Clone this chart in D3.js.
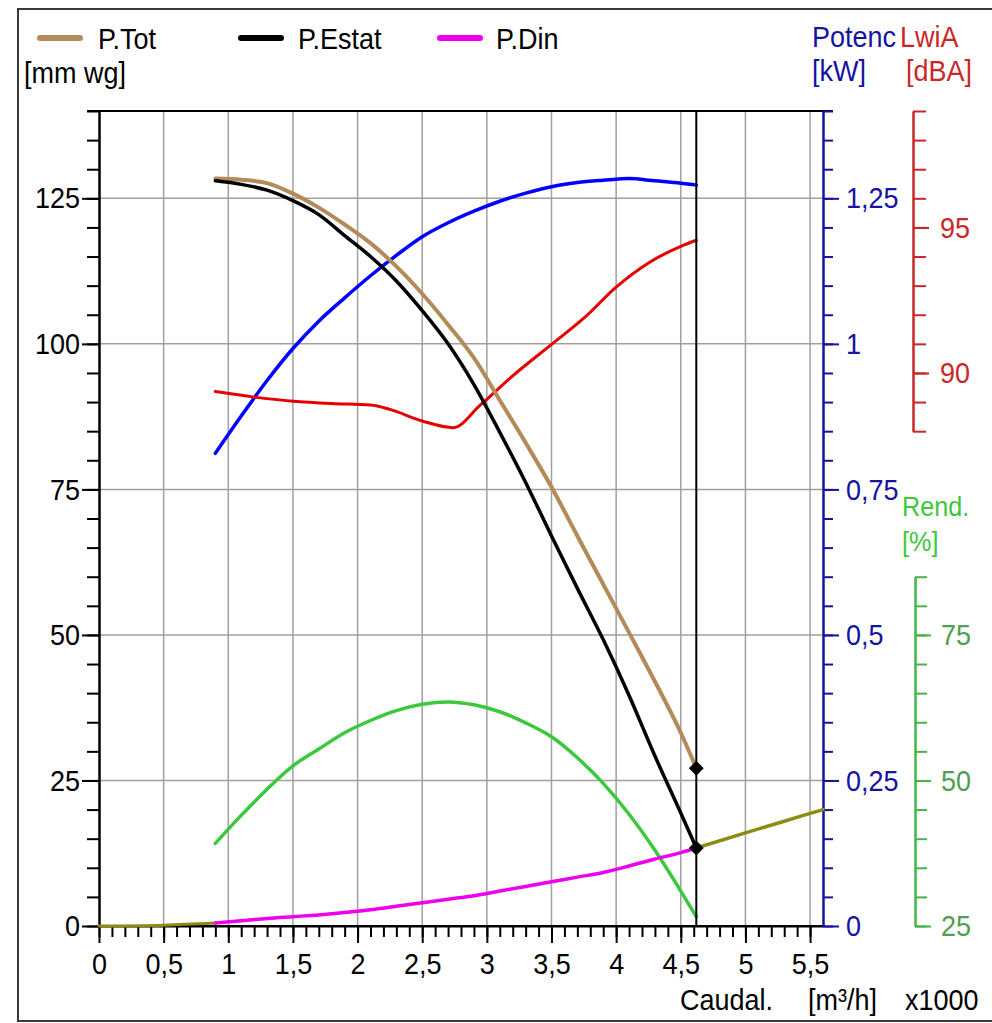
<!DOCTYPE html>
<html><head><meta charset="utf-8">
<script src="https://cdn.jsdelivr.net/npm/d3@7"></script>
<style>html,body{margin:0;padding:0;background:#fff;}svg{display:block;}</style>
</head><body>
<svg id="chart" width="992" height="1023"></svg>
<script>
// ---------------- data ----------------
const flowQ   = [0.9, 1.1, 1.3, 1.5, 1.7, 1.9, 2.1, 2.3, 2.5, 2.7, 2.9, 3.1, 3.3, 3.5, 3.7, 3.9, 4.1, 4.3, 4.5, 4.62];
const pTot    = [128.4, 128.2, 127.6, 125.8, 123.4, 120.5, 117.3, 113.3, 108.6, 103.3, 97.6, 90.3, 83.0, 75.4, 67.0, 58.7, 50.4, 42.0, 33.2, 27.1];
const pEstat  = [128.0, 127.4, 126.4, 124.6, 122.2, 118.6, 115.0, 110.8, 105.7, 100.0, 93.0, 84.8, 76.2, 67.0, 58.0, 49.2, 39.6, 29.2, 19.4, 13.4];
const pDin    = [0.5, 0.9, 1.3, 1.6, 1.9, 2.3, 2.8, 3.4, 4.0, 4.6, 5.2, 6.0, 6.8, 7.6, 8.4, 9.2, 10.3, 11.5, 12.6, 13.4];
const potKW   = [0.812, 0.876, 0.937, 0.992, 1.039, 1.079, 1.117, 1.152, 1.184, 1.208, 1.228, 1.245, 1.259, 1.270, 1.277, 1.281, 1.284, 1.280, 1.276, 1.273];
const rendPct = [39.2, 44.0, 48.5, 52.5, 55.4, 58.2, 60.3, 62.0, 63.1, 63.5, 63.0, 61.8, 59.9, 57.5, 53.9, 49.5, 44.2, 38.0, 31.0, 26.6];
const lwiFlow = [0.9, 1.2, 1.5, 1.8, 2.1, 2.25, 2.5, 2.74, 2.95, 3.2, 3.5, 3.75, 4.0, 4.25, 4.5, 4.62];
const lwiDBA  = [89.36, 89.17, 89.03, 88.95, 88.9, 88.75, 88.35, 88.12, 88.9, 89.9, 90.98, 91.88, 92.95, 93.78, 94.35, 94.56];
const dinLowFlow = [0, 0.5, 0.9];
const dinLowVal  = [0, 0.15, 0.5];
const dinExtFlow = [4.62, 5.0, 5.3, 5.6];
const dinExtVal  = [13.4, 16.0, 18.0, 20.0];
const opFlow = 4.62;
const opPoints = [27.1, 13.4];

const xTickVals  = [0, 0.5, 1, 1.5, 2, 2.5, 3, 3.5, 4, 4.5, 5, 5.5];
const xTickLbls  = ["0", "0,5", "1", "1,5", "2", "2,5", "3", "3,5", "4", "4,5", "5", "5,5"];
const yTickVals  = [0, 25, 50, 75, 100, 125];
const kwTickVals = [0, 0.25, 0.5, 0.75, 1, 1.25];
const kwTickLbls = ["0", "0,25", "0,5", "0,75", "1", "1,25"];
const dbTickVals = [90, 95];
const pcTickVals = [25, 50, 75];

const legendNames = ["P.Tot", "P.Estat", "P.Din"];

// ---------------- layout / style ----------------
const FONT = "'Liberation Sans', Arial, sans-serif";
const FS = 30, SX = 0.9;
const C = {tot: "#b48a58", estat: "#000000", din: "#ee00ee", olive: "#8c8c14",
           blue: "#0000ff", blueAx: "#1414a0", red: "#e60000", redAx: "#c82828",
           green: "#3cc83c", greenAx: "#46b446", greenTx: "#4f9f4f", grid: "#a0a0a0"};

const svg = d3.select("#chart");
const x = d3.scaleLinear([0, 5.6], [99, 823]);
const yL = d3.scaleLinear([0, 140], [926, 111]);
const yKW = d3.scaleLinear([0, 1.4], [926, 111]);
const yDB = d3.scaleLinear([88, 99], [yL(85), yL(140)]);
const yPC = d3.scaleLinear([25, 85], [yL(0), yL(60)]);

function txt(g, px, py, s, color, anchor, fs) {
  return g.append("text").attr("transform", `translate(${px},${py}) scale(${SX},1)`)
    .attr("text-anchor", anchor || "start").attr("font-family", FONT).attr("font-size", fs || FS)
    .attr("fill", color).text(s);
}
function condense(g) {
  g.attr("font-family", FONT).attr("font-size", FS);
  g.selectAll("text").each(function () {
    const t = d3.select(this);
    const ox = +t.attr("x") || 0;
    t.attr("x", ox / SX).attr("transform", `scale(${SX},1)`);
  });
}

// outer frame
svg.append("rect").attr("x", 18).attr("y", 9).attr("width", 990).attr("height", 1012)
  .attr("fill", "none").attr("stroke", "#3a3a3a").attr("stroke-width", 2);

// grid
const grid = svg.append("g").attr("stroke", C.grid).attr("stroke-width", 1.5);
xTickVals.filter(v => v > 0).forEach(v => grid.append("line")
  .attr("x1", x(v)).attr("x2", x(v)).attr("y1", yL(140)).attr("y2", yL(0)));
yTickVals.filter(v => v > 0).forEach(v => grid.append("line")
  .attr("x1", x(0)).attr("x2", x(5.6)).attr("y1", yL(v)).attr("y2", yL(v)));

// top border line
svg.append("line").attr("x1", 87).attr("x2", 833).attr("y1", yL(140)).attr("y2", yL(140))
  .attr("stroke", "#000").attr("stroke-width", 2);

// ---------------- axes ----------------
function styleAxis(g, color) {
  g.attr("color", color);
  g.selectAll("line,path").attr("stroke-width", 2);
}
// left axis
const gLm = svg.append("g").attr("transform", `translate(${x(0)},0)`)
  .call(d3.axisLeft(yL).tickValues(d3.range(0, 141, 5)).tickSize(12).tickSizeOuter(0).tickFormat(""));
styleAxis(gLm, "#000");
const gL = svg.append("g").attr("transform", `translate(${x(0)},0)`)
  .call(d3.axisLeft(yL).tickValues(yTickVals).tickSize(17).tickPadding(2).tickSizeOuter(0).tickFormat(d3.format("d")));
styleAxis(gL, "#000"); condense(gL);

// bottom axis
const gBm = svg.append("g").attr("transform", `translate(0,${yL(0)})`)
  .call(d3.axisBottom(x).tickValues(d3.range(0, 56).map(i => i / 10)).tickSize(11).tickSizeOuter(0).tickFormat(""));
styleAxis(gBm, "#000");
gBm.select(".domain").attr("d", `M${x(0)},0H${x(5.6)}`);
const gB = svg.append("g").attr("transform", `translate(0,${yL(0)})`)
  .call(d3.axisBottom(x).tickValues(xTickVals).tickSize(17).tickPadding(10).tickSizeOuter(0)
    .tickFormat((d, i) => xTickLbls[i]));
styleAxis(gB, "#000"); condense(gB);

// blue (kW) axis
const gKm = svg.append("g").attr("transform", `translate(${x(5.6)},0)`)
  .call(d3.axisRight(yKW).tickValues(d3.range(0, 29).map(i => i * 0.05)).tickSize(10).tickSizeOuter(0).tickFormat(""));
styleAxis(gKm, C.blueAx);
const gK = svg.append("g").attr("transform", `translate(${x(5.6)},0)`)
  .call(d3.axisRight(yKW).tickValues(kwTickVals).tickSize(16).tickPadding(7).tickSizeOuter(0)
    .tickFormat((d, i) => kwTickLbls[i]));
styleAxis(gK, C.blueAx); condense(gK);

// red (dBA) axis
const gDm = svg.append("g").attr("transform", `translate(913,0)`)
  .call(d3.axisRight(yDB).tickValues(d3.range(88, 100)).tickSize(13).tickSizeOuter(0).tickFormat(""));
styleAxis(gDm, C.redAx);
const gD = svg.append("g").attr("transform", `translate(913,0)`)
  .call(d3.axisRight(yDB).tickValues(dbTickVals).tickSize(16).tickPadding(11).tickSizeOuter(0).tickFormat(d3.format("d")));
styleAxis(gD, C.redAx); condense(gD);

// green (%) axis
const gPm = svg.append("g").attr("transform", `translate(915,0)`)
  .call(d3.axisRight(yPC).tickValues(d3.range(25, 86, 5)).tickSize(12).tickSizeOuter(0).tickFormat(""));
styleAxis(gPm, C.greenAx);
const gP = svg.append("g").attr("transform", `translate(915,0)`)
  .call(d3.axisRight(yPC).tickValues(pcTickVals).tickSize(16).tickPadding(10).tickSizeOuter(0).tickFormat(d3.format("d")));
styleAxis(gP, C.greenAx); condense(gP);
gP.selectAll("text").attr("fill", C.greenTx);

// ---------------- curves ----------------
const plot = svg.append("g").attr("fill", "none").attr("stroke-linejoin", "round").attr("stroke-linecap", "round");
function curve(xs, ys, yScale, color, w) {
  const line = d3.line().x((d, i) => x(xs[i])).y(d => yScale(d)).curve(d3.curveMonotoneX);
  plot.append("path").attr("d", line(ys)).attr("stroke", color).attr("stroke-width", w);
}
// operating vertical line
svg.append("line").attr("x1", x(opFlow)).attr("x2", x(opFlow)).attr("y1", yL(140)).attr("y2", yL(0))
  .attr("stroke", "#000").attr("stroke-width", 2);

curve(dinLowFlow, dinLowVal, yL, C.olive, 3);
curve(dinExtFlow, dinExtVal, yL, C.olive, 3.5);
curve(flowQ, rendPct, yPC, C.green, 3.5);
curve(flowQ, pDin, yL, C.din, 3.5);
curve(flowQ, potKW, yKW, C.blue, 3.5);
curve(lwiFlow, lwiDBA, yDB, C.red, 3);
curve(flowQ, pTot, yL, C.tot, 4);
curve(flowQ, pEstat, yL, C.estat, 3.5);

// operating point markers
opPoints.forEach(v => svg.append("path")
  .attr("d", d3.symbol(d3.symbolSquare, 110)())
  .attr("transform", `translate(${x(opFlow)},${yL(v)}) rotate(45)`)
  .attr("fill", "#000"));

// ---------------- legend & titles ----------------
const leg = svg.append("g");
const legColors = [C.tot, C.estat, C.din];
const legX = [40, 241, 440];
const legTX = [98, 298, 496];
legendNames.forEach((n, i) => {
  leg.append("line").attr("x1", legX[i]).attr("x2", legX[i] + 40).attr("y1", 38).attr("y2", 38)
    .attr("stroke", legColors[i]).attr("stroke-width", 6).attr("stroke-linecap", "round");
  txt(leg, legTX[i], 49, n, "#000");
});
txt(svg, 24, 83, "[mm wg]", "#000");
txt(svg, 812, 47, "Potenc", C.blueAx);
txt(svg, 900, 47, "LwiA", C.redAx);
txt(svg, 812, 81, "[kW]", C.blueAx);
txt(svg, 906, 81, "[dBA]", C.redAx);
txt(svg, 902, 516, "Rend.", C.green, "start", 28);
txt(svg, 902, 551, "[%]", C.green, "start", 28);
txt(svg, 680, 1010, "Caudal.", "#000");
txt(svg, 808, 1010, "[m\u00B3/h]", "#000");
txt(svg, 905, 1010, "x1000", "#000");
</script>
</body></html>
